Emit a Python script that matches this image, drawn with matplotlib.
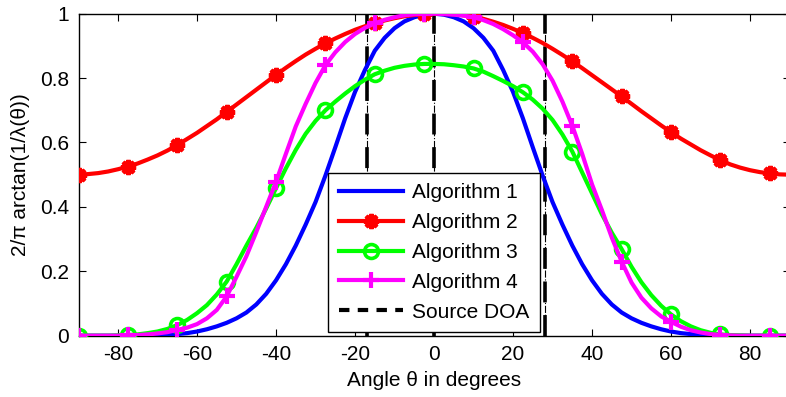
# beam pattern comparison, 4 algorithms vs source DOA

import numpy as np
from matplotlib import pyplot as plt
from matplotlib.lines import Line2D

plt.rcParams['font.family'] = ['Liberation Sans', 'DejaVu Sans']
plt.rcParams['font.size'] = 15
plt.rcParams['axes.unicode_minus'] = False

# angle grid, 2.5 degree steps from -90 to 90
theta = np.arange(-90, 90.01, 2.5)

alg1 = [0.000, 0.000, 0.000, 0.000, 0.000, 0.000, 0.000, 0.001, 0.002, 0.003,
        0.005, 0.008, 0.013, 0.020, 0.029, 0.040, 0.054, 0.072, 0.097, 0.130,
        0.172, 0.222, 0.280, 0.345, 0.415, 0.497, 0.585, 0.675, 0.757, 0.825,
        0.885, 0.925, 0.955, 0.976, 0.989, 0.997, 1.000, 0.997, 0.989, 0.976,
        0.955, 0.925, 0.885, 0.825, 0.757, 0.675, 0.585, 0.497, 0.415, 0.345,
        0.280, 0.222, 0.172, 0.130, 0.097, 0.072, 0.054, 0.040, 0.029, 0.020,
        0.013, 0.008, 0.005, 0.003, 0.002, 0.001, 0.000, 0.000, 0.000, 0.000,
        0.000, 0.000, 0.000]

alg2 = [0.500, 0.502, 0.505, 0.510, 0.517, 0.525, 0.535, 0.547, 0.560, 0.575,
        0.592, 0.611, 0.630, 0.651, 0.672, 0.695, 0.718, 0.741, 0.764, 0.787,
        0.810, 0.832, 0.853, 0.873, 0.891, 0.908, 0.923, 0.937, 0.950, 0.961,
        0.970, 0.979, 0.986, 0.992, 0.996, 0.999, 1.000, 0.999, 0.998, 0.995,
        0.991, 0.984, 0.975, 0.965, 0.953, 0.940, 0.925, 0.909, 0.891, 0.872,
        0.852, 0.831, 0.809, 0.787, 0.765, 0.743, 0.720, 0.697, 0.675, 0.653,
        0.632, 0.612, 0.594, 0.576, 0.560, 0.545, 0.532, 0.522, 0.514, 0.508,
        0.504, 0.501, 0.500]

alg3 = [0.000, 0.000, 0.000, 0.000, 0.001, 0.002, 0.004, 0.008, 0.013, 0.021,
        0.033, 0.049, 0.070, 0.095, 0.128, 0.168, 0.222, 0.280, 0.335, 0.395,
        0.458, 0.520, 0.577, 0.627, 0.667, 0.700, 0.727, 0.752, 0.775, 0.795,
        0.812, 0.823, 0.832, 0.838, 0.842, 0.844, 0.844, 0.843, 0.840, 0.836,
        0.830, 0.820, 0.806, 0.791, 0.775, 0.756, 0.733, 0.705, 0.670, 0.625,
        0.572, 0.507, 0.442, 0.377, 0.320, 0.269, 0.214, 0.166, 0.126, 0.093,
        0.066, 0.045, 0.029, 0.017, 0.009, 0.004, 0.002, 0.001, 0.000, 0.000,
        0.000, 0.000, 0.000]

alg4 = [0.000, 0.000, 0.000, 0.000, 0.000, 0.001, 0.002, 0.004, 0.007, 0.011,
        0.018, 0.025, 0.036, 0.054, 0.080, 0.122, 0.183, 0.247, 0.322, 0.400,
        0.478, 0.565, 0.650, 0.720, 0.785, 0.840, 0.880, 0.912, 0.937, 0.956,
        0.970, 0.981, 0.989, 0.995, 0.998, 1.000, 1.000, 0.999, 0.997, 0.994,
        0.989, 0.980, 0.968, 0.952, 0.933, 0.911, 0.882, 0.843, 0.792, 0.727,
        0.652, 0.565, 0.470, 0.390, 0.305, 0.230, 0.165, 0.118, 0.085, 0.060,
        0.043, 0.028, 0.017, 0.010, 0.005, 0.002, 0.001, 0.000, 0.000, 0.000,
        0.000, 0.000, 0.000]

doa = [-17, 0, 28]

xticks = [-80, -60, -40, -20, 0, 20, 40, 60, 80]
yticks = [0, 0.2, 0.4, 0.6, 0.8, 1]
ylabels = ['0', '0.2', '0.4', '0.6', '0.8', '1']

fig = plt.figure(figsize=(7.86, 3.97), dpi=100)
ax = fig.add_axes([0.0999, 0.1544, 0.9046, 0.8111])

# source DOA: thin dash-dot plus thick dashed on top
for d in doa:
    ax.plot([d, d], [0, 1], color='k', linestyle='-.', linewidth=0.8, zorder=1)
    ax.plot([d, d], [0, 1], color='k', linewidth=2.6, dashes=(5.8, 3.5), zorder=1)

ax.plot(theta, alg1, color='#0000ff', linewidth=3, zorder=3)
ax.plot(theta, alg2, color='#ff0000', linewidth=3, marker=(8, 2, 0), markersize=11,
        markeredgewidth=3, markevery=5, zorder=3)
ax.plot(theta, alg3, color='#00ff00', linewidth=3, marker='o', markersize=10,
        markerfacecolor='none', markeredgewidth=2.6, markevery=5, zorder=3)
ax.plot(theta, alg4, color='#ff00ff', linewidth=3, marker='+', markersize=12,
        markeredgewidth=3, markevery=5, zorder=3)

handles = [
    Line2D([], [], color='#0000ff', linewidth=3),
    Line2D([], [], color='#ff0000', linewidth=3, marker=(8, 2, 0), markersize=11,
           markeredgewidth=3),
    Line2D([], [], color='#00ff00', linewidth=3, marker='o', markersize=10,
           markerfacecolor='none', markeredgewidth=2.6),
    Line2D([], [], color='#ff00ff', linewidth=3, marker='+', markersize=12,
           markeredgewidth=3),
    Line2D([], [], color='k', linewidth=3, dashes=(2.5, 2.0)),
]
labels = ['Algorithm 1', 'Algorithm 2', 'Algorithm 3', 'Algorithm 4', 'Source DOA']
leg = ax.legend(handles, labels, loc='lower left', bbox_to_anchor=(0.351, 0.0115),
                fontsize=15, handlelength=3.1, handletextpad=0.45, labelspacing=0.52,
                borderpad=0.5, borderaxespad=0, fancybox=False, framealpha=1)
leg.get_frame().set_edgecolor('k')
leg.get_frame().set_linewidth(1)
leg.set_zorder(5)

ax.set_xlim(-90, 90)
ax.set_ylim(0, 1)
ax.set_xticks(xticks)
ax.set_yticks(yticks)
ax.set_yticklabels(ylabels)
ax.tick_params(direction='in', length=5, top=True, right=True, labelsize=15, pad=7)
for s in ax.spines.values():
    s.set_linewidth(1)
ax.set_xlabel('Angle θ in degrees', fontsize=15, labelpad=5)
ax.set_ylabel('2/π arctan(1/λ(θ))', fontsize=15, labelpad=7)

plt.savefig('out.png', dpi=100)
